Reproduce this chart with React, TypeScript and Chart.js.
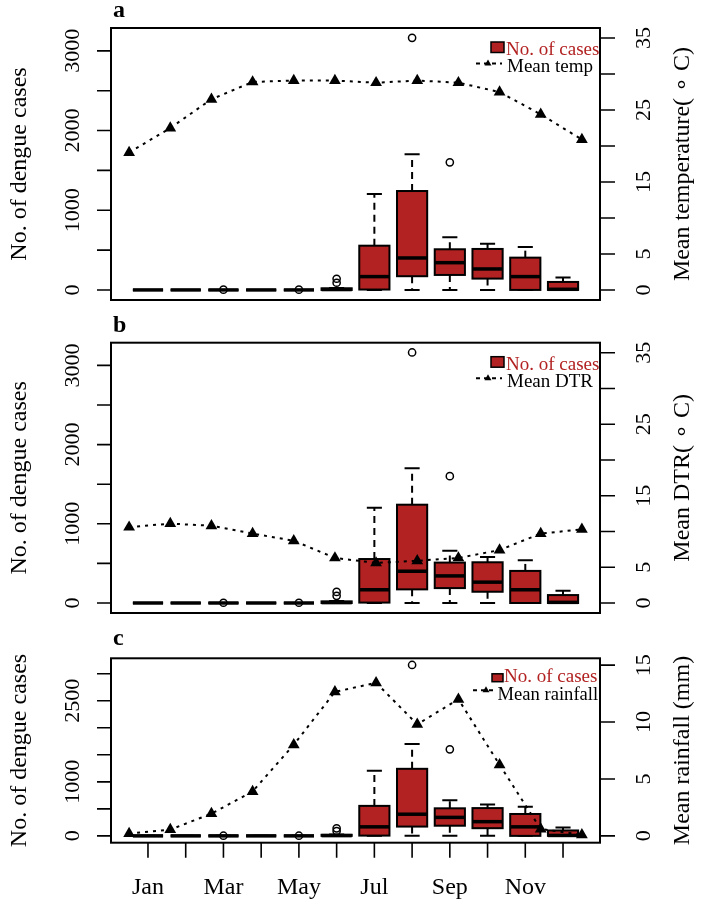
import React, { useEffect, useRef } from "react";
import { Chart, registerables } from "chart.js";

Chart.register(...registerables);

// ---------------- data ----------------
const MONTHS = ["Jan", "Feb", "Mar", "Apr", "May", "Jun", "Jul", "Aug", "Sep", "Oct", "Nov", "Dec"];
const X_TICK_LABELS = ["Jan", "", "Mar", "", "May", "", "Jul", "", "Sep", "", "Nov", ""];

const CASE_MIN = [0, 0, 0, 0, 0, 0, 0, 0, 0, 0, 0, 0];
const CASE_Q1 = [0, 0, 0, 0, 0, 0, 5, 172, 188, 142, 0, 0];
const CASE_MEDIAN = [0, 0, 0, 0, 0, 5, 167, 401, 342, 263, 167, 8];
const CASE_Q3 = [0, 0, 0, 0, 0, 20, 555, 1241, 510, 514, 405, 100];
const CASE_MAX = [0, 0, 0, 0, 0, 25, 1203, 1701, 660, 580, 539, 155];
const CASE_OUTLIERS: number[][] = [[], [], [3], [], [3], [90, 140], [], [3163], [1601], [], [], []];

const MEAN_TEMP = [19.1, 22.5, 26.5, 28.9, 29.1, 29.1, 28.8, 29.1, 28.8, 27.5, 24.4, 20.9];
const MEAN_DTR = [10.6, 11.1, 10.8, 9.7, 8.7, 6.3, 5.6, 5.9, 6.3, 7.4, 9.7, 10.3];
const MEAN_RAINFALL = [0.2, 0.55, 1.95, 3.9, 8.0, 12.65, 13.45, 9.8, 12.0, 6.25, 0.6, 0.1];

const CASE_TICKS = [0, 500, 1000, 1500, 2000, 2500, 3000];
const CASE_LABELS_AB = [0, 1000, 2000, 3000];
const CASE_LABELS_C = [0, 1000, 2500];
const TEMP_TICKS = [0, 5, 10, 15, 20, 25, 30, 35];
const TEMP_LABELS = [0, 5, 15, 25, 35];
const RAIN_TICKS = [0, 5, 10, 15];
const RAIN_LABELS = [0, 5, 10, 15];

// ---------------- style ----------------
const FONT = '"Liberation Serif", "Times New Roman", serif';
const RED = "#B22222";
const BOX_WIDTH = 0.8;

type LegendCfg = {
  sqX0: number; sqX1: number; sqY0: number; sqY1: number;
  t1X: number; t1Y: number; f1: number;
  lX0: number; lX1: number; lY: number; triX: number;
  t2X: number; t2Y: number; f2: number;
  label2: string;
};

type PanelCfg = {
  letter: string;
  sliceTop: number;
  sliceH: number;
  top: number;
  bottom: number;
  letterDy: number;
  line: number[];
  rightMin: number;
  rightMax: number;
  rightTicks: number[];
  rightLabels: number[];
  leftLabels: number[];
  rightTitle: string;
  showX: boolean;
  legend: LegendCfg;
};

const LEG_AB = (label2: string): LegendCfg => ({
  sqX0: -109, sqX1: -96, sqY0: 14, sqY1: 24.5,
  t1X: -94, t1Y: 27, f1: 19,
  lX0: -124, lX1: -98, lY: 35.5, triX: -112,
  t2X: -93, t2Y: 44, f2: 19,
  label2,
});

const PANELS: PanelCfg[] = [
  {
    letter: "a", sliceTop: 0, sliceH: 310, top: 28, bottom: 300, letterDy: -11,
    line: MEAN_TEMP, rightMin: -1.4, rightMax: 36.4, rightTicks: TEMP_TICKS, rightLabels: TEMP_LABELS,
    leftLabels: CASE_LABELS_AB, rightTitle: "Mean temperature( \u2218 C)", showX: false,
    legend: LEG_AB("Mean temp"),
  },
  {
    letter: "b", sliceTop: 310, sliceH: 315, top: 342.7, bottom: 613, letterDy: -11,
    line: MEAN_DTR, rightMin: -1.4, rightMax: 36.4, rightTicks: TEMP_TICKS, rightLabels: TEMP_LABELS,
    leftLabels: CASE_LABELS_AB, rightTitle: "Mean DTR( \u2218 C)", showX: false,
    legend: LEG_AB("Mean DTR"),
  },
  {
    letter: "c", sliceTop: 625, sliceH: 279, top: 658.3, bottom: 842.7, letterDy: -13,
    line: MEAN_RAINFALL, rightMin: -0.6, rightMax: 15.6, rightTicks: RAIN_TICKS, rightLabels: RAIN_LABELS,
    leftLabels: CASE_LABELS_C, rightTitle: "Mean rainfall (mm)", showX: true,
    legend: {
      sqX0: -108, sqX1: -97, sqY0: 15.5, sqY1: 23.4,
      t1X: -96, t1Y: 23.4, f1: 19,
      lX0: -127, lX1: -103, lY: 32, triX: -114,
      t2X: -102.5, t2Y: 41.7, f2: 18.6,
      label2: "Mean rainfall",
    },
  },
];

function vText(ctx: CanvasRenderingContext2D, text: string, x: number, y: number) {
  ctx.save();
  ctx.translate(x, y);
  ctx.rotate(-Math.PI / 2);
  ctx.textAlign = "center";
  ctx.textBaseline = "alphabetic";
  ctx.fillText(text, 0, 0);
  ctx.restore();
}

const decorPlugin = {
  id: "decor",
  beforeDatasetsDraw(chart: any) {
    const { ctx } = chart;
    const x = chart.scales.x;
    const y = chart.scales.y;
    const half = x.getPixelForValue(1 + BOX_WIDTH / 2) - x.getPixelForValue(1);
    const staple = half * 0.5;
    ctx.save();
    ctx.strokeStyle = "#000";
    ctx.lineCap = "butt";
    MONTHS.forEach((_m, i) => {
      const cx = x.getPixelForValue(i + 1);
      const pMin = y.getPixelForValue(CASE_MIN[i]);
      const pQ1 = y.getPixelForValue(CASE_Q1[i]);
      const pMed = y.getPixelForValue(CASE_MEDIAN[i]);
      const pQ3 = y.getPixelForValue(CASE_Q3[i]);
      const pMax = y.getPixelForValue(CASE_MAX[i]);
      // whiskers
      ctx.lineWidth = 2;
      ctx.setLineDash([7, 5]);
      ctx.beginPath();
      ctx.moveTo(cx, pQ3);
      ctx.lineTo(cx, pMax);
      ctx.moveTo(cx, pQ1);
      ctx.lineTo(cx, pMin);
      ctx.stroke();
      ctx.setLineDash([]);
      // staples
      ctx.beginPath();
      ctx.moveTo(cx - staple, pMax);
      ctx.lineTo(cx + staple, pMax);
      ctx.moveTo(cx - staple, pMin);
      ctx.lineTo(cx + staple, pMin);
      ctx.stroke();
      // box
      ctx.fillStyle = RED;
      ctx.fillRect(cx - half, pQ3, 2 * half, pQ1 - pQ3);
      ctx.lineWidth = 2;
      ctx.strokeRect(cx - half, pQ3, 2 * half, pQ1 - pQ3);
      // median
      ctx.lineWidth = 3.5;
      ctx.beginPath();
      ctx.moveTo(cx - half, pMed);
      ctx.lineTo(cx + half, pMed);
      ctx.stroke();
    });
    ctx.restore();
  },
  afterDraw(chart: any, _args: any, opts: any) {
    const cfg: PanelCfg = opts.cfg;
    const { ctx, chartArea } = chart;
    const { left, right, top, bottom } = chartArea;
    const x = chart.scales.x;
    const y = chart.scales.y;
    const y2 = chart.scales.y2;
    ctx.save();
    ctx.strokeStyle = "#000";
    ctx.fillStyle = "#000";
    ctx.setLineDash([]);
    // frame
    ctx.lineWidth = 2;
    ctx.strokeRect(left, top, right - left, bottom - top);

    // left axis
    ctx.lineWidth = 1.6;
    ctx.beginPath();
    CASE_TICKS.forEach((v) => {
      const p = y.getPixelForValue(v);
      ctx.moveTo(left - 14, p);
      ctx.lineTo(left, p);
    });
    ctx.stroke();
    ctx.font = `22px ${FONT}`;
    cfg.leftLabels.forEach((v) => vText(ctx, String(v), left - 32.5, y.getPixelForValue(v)));

    // right axis
    ctx.beginPath();
    cfg.rightTicks.forEach((v) => {
      const p = y2.getPixelForValue(v);
      ctx.moveTo(right, p);
      ctx.lineTo(right + 15, p);
    });
    ctx.stroke();
    cfg.rightLabels.forEach((v) => vText(ctx, String(v), right + 50, y2.getPixelForValue(v)));

    // titles
    ctx.font = `24px ${FONT}`;
    const midY = (top + bottom) / 2;
    vText(ctx, "No. of dengue cases", left - 85, midY);
    vText(ctx, cfg.rightTitle, right + 89, midY);

    // panel letter
    ctx.font = `bold 24px ${FONT}`;
    ctx.textAlign = "left";
    ctx.textBaseline = "alphabetic";
    ctx.fillText(cfg.letter, left + 2, top + cfg.letterDy);

    // x axis
    if (cfg.showX) {
      ctx.lineWidth = 1.6;
      ctx.beginPath();
      MONTHS.forEach((_m, i) => {
        const p = x.getPixelForValue(i + 1);
        ctx.moveTo(p, bottom);
        ctx.lineTo(p, bottom + 15);
      });
      ctx.stroke();
      ctx.font = `24px ${FONT}`;
      ctx.textAlign = "center";
      X_TICK_LABELS.forEach((lab, i) => {
        if (lab) ctx.fillText(lab, x.getPixelForValue(i + 1), bottom + 51.3);
      });
    }

    // legend
    const L = cfg.legend;
    ctx.fillStyle = RED;
    ctx.fillRect(right + L.sqX0, top + L.sqY0, L.sqX1 - L.sqX0, L.sqY1 - L.sqY0);
    ctx.lineWidth = 1.5;
    ctx.strokeRect(right + L.sqX0, top + L.sqY0, L.sqX1 - L.sqX0, L.sqY1 - L.sqY0);
    ctx.textAlign = "left";
    ctx.font = `${L.f1}px ${FONT}`;
    ctx.fillText("No. of cases", right + L.t1X, top + L.t1Y);
    ctx.fillStyle = "#000";
    ctx.lineWidth = 2;
    ctx.setLineDash([4, 4]);
    ctx.beginPath();
    ctx.moveTo(right + L.lX0, top + L.lY);
    ctx.lineTo(right + L.lX1, top + L.lY);
    ctx.stroke();
    ctx.setLineDash([]);
    const tr = 4;
    const tx = right + L.triX;
    const ty = top + L.lY;
    ctx.beginPath();
    ctx.moveTo(tx, ty - tr);
    ctx.lineTo(tx + tr * 0.866, ty + tr / 2);
    ctx.lineTo(tx - tr * 0.866, ty + tr / 2);
    ctx.closePath();
    ctx.fill();
    ctx.font = `${L.f2}px ${FONT}`;
    ctx.fillText(L.label2, right + L.t2X, top + L.t2Y);
    ctx.restore();
  },
};

function Panel({ cfg }: { cfg: PanelCfg }) {
  const ref = useRef<HTMLCanvasElement>(null);
  useEffect(() => {
    const canvas = ref.current;
    if (!canvas) return;
    const outlierPoints = CASE_OUTLIERS.flatMap((arr, i) => arr.map((v) => ({ x: i + 1, y: v })));
    const linePoints = cfg.line.map((v, i) => ({ x: i + 1, y: v }));
    const chart = new Chart(canvas, {
      type: "line",
      data: {
        datasets: [
          {
            label: "line",
            data: linePoints,
            xAxisID: "x2",
            yAxisID: "y2",
            borderColor: "#000",
            borderWidth: 2,
            borderDash: [3, 5],
            borderCapStyle: "butt",
            tension: 0,
            fill: false,
            pointStyle: "triangle",
            pointRadius: 6.8,
            pointBorderWidth: 0,
            pointBackgroundColor: "#000",
            pointBorderColor: "#000",
            clip: false,
            order: 0,
          } as any,
          {
            label: "outliers",
            data: outlierPoints,
            xAxisID: "x",
            yAxisID: "y",
            showLine: false,
            borderWidth: 0,
            pointStyle: "circle",
            pointRadius: 3.6,
            pointBorderWidth: 1.5,
            pointBorderColor: "#000",
            pointBackgroundColor: "rgba(0,0,0,0)",
            clip: false,
            order: 1,
          } as any,
        ],
      },
      options: {
        responsive: false,
        animation: false,
        devicePixelRatio: 1,
        events: [],
        layout: {
          padding: {
            left: 111,
            right: 104,
            top: cfg.top - cfg.sliceTop,
            bottom: cfg.sliceTop + cfg.sliceH - cfg.bottom,
          },
        },
        plugins: {
          legend: { display: false },
          tooltip: { enabled: false },
          decor: { cfg },
        } as any,
        scales: {
          x: { type: "linear", axis: "x", min: 0.02, max: 12.98, display: false },
          x2: { type: "linear", axis: "x", min: 0.56, max: 12.44, display: false },
          y: { type: "linear", axis: "y", min: -126.4, max: 3286.4, display: false },
          y2: { type: "linear", axis: "y", min: cfg.rightMin, max: cfg.rightMax, display: false },
        } as any,
      },
      plugins: [decorPlugin as any],
    });
    return () => chart.destroy();
  }, [cfg]);
  return (
    <canvas
      ref={ref}
      width={704}
      height={cfg.sliceH}
      style={{ position: "absolute", left: 0, top: cfg.sliceTop, width: 704, height: cfg.sliceH }}
    />
  );
}

export default function App() {
  return (
    <div style={{ position: "absolute", left: 0, top: 0, width: 704, height: 904, background: "#fff" }}>
      {PANELS.map((p) => (
        <Panel key={p.letter} cfg={p} />
      ))}
    </div>
  );
}
